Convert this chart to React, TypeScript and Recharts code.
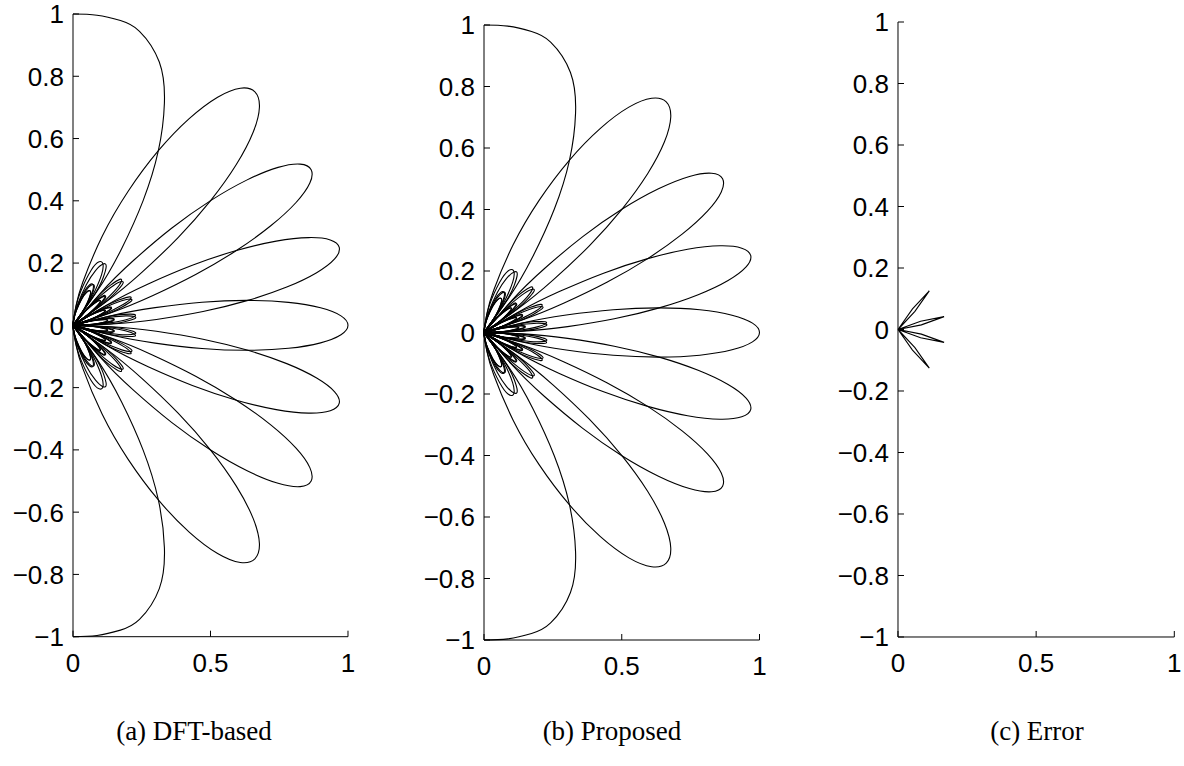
import React from 'react'
import { LineChart, Line, XAxis, YAxis } from 'recharts'

// sampling angles of the beam patterns, degrees from broadside
const THETA = [
  -90, -85, -80, -75.64, -69.64, -65.02, -61.04, -57.53, -54.34, -51.38, -48.59, -45.95, -43.43,
  -41.01, -38.68, -36.42, -34.23, -32.09, -30, -27.95, -25.94, -23.97, -22.02, -20.11, -18.21,
  -16.34, -14.48, -12.64, -10.81, -8.99, -7.18, -5.38, -3.58, -1.79, 0, 1.79, 3.58, 5.38, 7.18,
  8.99, 10.81, 12.64, 14.48, 16.34, 18.21, 20.11, 22.02, 23.97, 25.94, 27.95, 30, 32.09, 34.23,
  36.42, 38.68, 41.01, 43.43, 45.95, 48.59, 51.38, 54.34, 57.53, 61.04, 65.02, 69.64, 75.64, 80,
  85, 90,
]

// beam magnitudes (one list per beam), same order as THETA
const BEAM_M3 = [
  0, 0.016, 0.066,
  0.142, 0.304, 0.475, 0.641, 0.787, 0.902, 0.975, 1, 0.975, 0.902, 0.787, 0.641, 0.475, 0.304, 0.142, 0, 0.112, 0.188, 0.225, 0.225, 0.194, 0.139, 0.071, 0, 0.065, 0.114, 0.144, 0.150, 0.135, 0.100, 0.053,
  0,
  0.051, 0.092, 0.119, 0.127, 0.117, 0.089, 0.048, 0, 0.048, 0.089, 0.117, 0.127, 0.119, 0.092, 0.051, 0, 0.053, 0.100, 0.135, 0.150, 0.144, 0.114, 0.065, 0, 0.071, 0.139, 0.194, 0.225, 0.225, 0.188, 0.112,
  0.059, 0.015, 0,
]
const BEAM_M2 = [
  0, 0.009, 0.034,
  0.071, 0.139, 0.194, 0.225, 0.225, 0.188, 0.112, 0, 0.142, 0.304, 0.475, 0.641, 0.787, 0.902, 0.975, 1, 0.975, 0.902, 0.787, 0.641, 0.475, 0.304, 0.142, 0, 0.112, 0.188, 0.225, 0.225, 0.194, 0.139, 0.071,
  0,
  0.065, 0.114, 0.144, 0.150, 0.135, 0.100, 0.053, 0, 0.051, 0.092, 0.119, 0.127, 0.117, 0.089, 0.048, 0, 0.048, 0.089, 0.117, 0.127, 0.119, 0.092, 0.051, 0, 0.053, 0.100, 0.135, 0.150, 0.144, 0.114, 0.065,
  0.033, 0.008, 0,
]
const BEAM_M1 = [
  0, 0.006, 0.026,
  0.053, 0.100, 0.135, 0.150, 0.144, 0.114, 0.065, 0, 0.071, 0.139, 0.194, 0.225, 0.225, 0.188, 0.112, 0, 0.142, 0.304, 0.475, 0.641, 0.787, 0.902, 0.975, 1, 0.975, 0.902, 0.787, 0.641, 0.475, 0.304, 0.142,
  0,
  0.112, 0.188, 0.225, 0.225, 0.194, 0.139, 0.071, 0, 0.065, 0.114, 0.144, 0.150, 0.135, 0.100, 0.053, 0, 0.051, 0.092, 0.119, 0.127, 0.117, 0.089, 0.048, 0, 0.048, 0.089, 0.117, 0.127, 0.119, 0.092, 0.051,
  0.025, 0.006, 0,
]
const BEAM_0 = [
  0, 0.006, 0.024,
  0.048, 0.089, 0.117, 0.127, 0.119, 0.092, 0.051, 0, 0.053, 0.100, 0.135, 0.150, 0.144, 0.114, 0.065, 0, 0.071, 0.139, 0.194, 0.225, 0.225, 0.188, 0.112, 0, 0.142, 0.304, 0.475, 0.641, 0.787, 0.902, 0.975,
  1,
  0.975, 0.902, 0.787, 0.641, 0.475, 0.304, 0.142, 0, 0.112, 0.188, 0.225, 0.225, 0.194, 0.139, 0.071, 0, 0.065, 0.114, 0.144, 0.150, 0.135, 0.100, 0.053, 0, 0.051, 0.092, 0.119, 0.127, 0.117, 0.089, 0.048,
  0.024, 0.006, 0,
]
const BEAM_P1 = [
  0, 0.006, 0.025,
  0.051, 0.092, 0.119, 0.127, 0.117, 0.089, 0.048, 0, 0.048, 0.089, 0.117, 0.127, 0.119, 0.092, 0.051, 0, 0.053, 0.100, 0.135, 0.150, 0.144, 0.114, 0.065, 0, 0.071, 0.139, 0.194, 0.225, 0.225, 0.188, 0.112,
  0,
  0.142, 0.304, 0.475, 0.641, 0.787, 0.902, 0.975, 1, 0.975, 0.902, 0.787, 0.641, 0.475, 0.304, 0.142, 0, 0.112, 0.188, 0.225, 0.225, 0.194, 0.139, 0.071, 0, 0.065, 0.114, 0.144, 0.150, 0.135, 0.100, 0.053,
  0.026, 0.006, 0,
]
const BEAM_P2 = [
  0, 0.008, 0.033,
  0.065, 0.114, 0.144, 0.150, 0.135, 0.100, 0.053, 0, 0.051, 0.092, 0.119, 0.127, 0.117, 0.089, 0.048, 0, 0.048, 0.089, 0.117, 0.127, 0.119, 0.092, 0.051, 0, 0.053, 0.100, 0.135, 0.150, 0.144, 0.114, 0.065,
  0,
  0.071, 0.139, 0.194, 0.225, 0.225, 0.188, 0.112, 0, 0.142, 0.304, 0.475, 0.641, 0.787, 0.902, 0.975, 1, 0.975, 0.902, 0.787, 0.641, 0.475, 0.304, 0.142, 0, 0.112, 0.188, 0.225, 0.225, 0.194, 0.139, 0.071,
  0.034, 0.009, 0,
]
const BEAM_P3 = [
  0, 0.015, 0.059,
  0.112, 0.188, 0.225, 0.225, 0.194, 0.139, 0.071, 0, 0.065, 0.114, 0.144, 0.150, 0.135, 0.100, 0.053, 0, 0.051, 0.092, 0.119, 0.127, 0.117, 0.089, 0.048, 0, 0.048, 0.089, 0.117, 0.127, 0.119, 0.092, 0.051,
  0,
  0.053, 0.100, 0.135, 0.150, 0.144, 0.114, 0.065, 0, 0.071, 0.139, 0.194, 0.225, 0.225, 0.188, 0.112, 0, 0.142, 0.304, 0.475, 0.641, 0.787, 0.902, 0.975, 1, 0.975, 0.902, 0.787, 0.641, 0.475, 0.304, 0.142,
  0.066, 0.016, 0,
]
// endfire beam: half lobes at +90 and -90
const BEAM_END = [
  1, 1, 0.994,
  0.975, 0.902, 0.787, 0.641, 0.475, 0.304, 0.142, 0, 0.112, 0.188, 0.225, 0.225, 0.194, 0.139, 0.071, 0, 0.065, 0.114, 0.144, 0.150, 0.135, 0.100, 0.053, 0, 0.051, 0.092, 0.119, 0.127, 0.117, 0.089, 0.048,
  0,
  0.048, 0.089, 0.117, 0.127, 0.119, 0.092, 0.051, 0, 0.053, 0.100, 0.135, 0.150, 0.144, 0.114, 0.065, 0, 0.071, 0.139, 0.194, 0.225, 0.225, 0.188, 0.112, 0, 0.142, 0.304, 0.475, 0.641, 0.787, 0.902, 0.975,
  0.994, 1, 1,
]

// error pattern (c): four thin spikes
const ERR_THETA = [
  -90, -55.9, -51.9, -47.9, -43.9, -39.9, -22.1, -18.1, -14.1, -10.1, -6.1,
  6.1, 10.1, 14.1, 18.1, 22.1, 39.9, 43.9, 47.9, 51.9, 55.9, 90,
]
const ERR_R = [
  0, 0, 0.085, 0.169, 0.085, 0, 0, 0.086, 0.172, 0.086, 0,
  0, 0.086, 0.172, 0.086, 0, 0, 0.085, 0.169, 0.085, 0, 0,
]

const Y_TICKS = [-1, -0.8, -0.6, -0.4, -0.2, 0, 0.2, 0.4, 0.6, 0.8, 1]
const X_TICKS = [0, 0.5, 1]
const CAPTIONS = ['(a) DFT-based', '(b) Proposed', '(c) Error']

const BEAMS = [BEAM_M3, BEAM_M2, BEAM_M1, BEAM_0, BEAM_P1, BEAM_P2, BEAM_P3, BEAM_END]

const FONT = '"Liberation Sans", Arial, Helvetica, sans-serif'
const SERIF = '"Liberation Serif", "Times New Roman", serif'

// polar (deg, r) -> cartesian points for the line series
const toXY = (theta: number[], r: number[]) =>
  theta.map((t, i) => {
    const a = (t * Math.PI) / 180
    return { x: r[i] * Math.cos(a), y: r[i] * Math.sin(a) }
  })

const fmt = (v: number) => (v < 0 ? '\u2212' + String(-v) : String(v))

function YTick(props: any) {
  const { x, y, payload } = props
  return (
    <g>
      <line x1={x} x2={x + 6} y1={y} y2={y} stroke="#000" strokeWidth={1} />
      <text x={x - 9} y={y} dy="0.36em" textAnchor="end" fontSize={26} fontFamily={FONT} fill="#000">
        {fmt(payload.value)}
      </text>
    </g>
  )
}

function XTick(props: any) {
  const { x, y, payload } = props
  return (
    <g>
      <line x1={x} x2={x} y1={y} y2={y - 6} stroke="#000" strokeWidth={1} />
      <text x={x} y={y + 35} textAnchor="middle" fontSize={26} fontFamily={FONT} fill="#000">
        {fmt(payload.value)}
      </text>
    </g>
  )
}

interface PanelProps {
  left: number
  top: number
  w: number
  h: number
  series: { x: number; y: number }[][]
  curve: 'natural' | 'linear'
}

const AXIS_W = 80
const PAD_TOP = 22

function Panel({ left, top, w, h, series, curve }: PanelProps) {
  return (
    <div style={{ position: 'absolute', left: left - AXIS_W, top: top - PAD_TOP }}>
      <LineChart
        width={AXIS_W + w + 20}
        height={PAD_TOP + h + 60}
        margin={{ top: PAD_TOP, right: 20, bottom: 0, left: 0 }}
      >
        <XAxis
          type="number"
          dataKey="x"
          domain={[0, 1]}
          ticks={X_TICKS}
          height={60}
          tickSize={0}
          tickMargin={0}
          tickLine={false}
          axisLine={{ stroke: '#000', strokeWidth: 1 }}
          tick={(p: any) => <XTick {...p} />}
          interval={0}
        />
        <YAxis
          type="number"
          dataKey="y"
          domain={[-1, 1]}
          ticks={Y_TICKS}
          width={AXIS_W}
          tickSize={0}
          tickMargin={0}
          tickLine={false}
          axisLine={{ stroke: '#000', strokeWidth: 1 }}
          tick={(p: any) => <YTick {...p} />}
          interval={0}
        />
        {series.map((d, i) => (
          <Line
            key={i}
            data={d}
            dataKey="y"
            type={curve}
            stroke="#000"
            strokeWidth={1.1}
            dot={false}
            activeDot={false}
            isAnimationActive={false}
          />
        ))}
      </LineChart>
    </div>
  )
}

export default function App() {
  const beams = BEAMS.map((r) => toXY(THETA, r))
  const err = [toXY(ERR_THETA, ERR_R)]
  const captionX = [194, 612, 1037]
  return (
    <div style={{ position: 'absolute', left: 0, top: 0, width: 1184, height: 766, background: '#fff' }}>
      <Panel left={72.7} top={14} w={275} h={622.7} series={beams} curve="natural" />
      <Panel left={484.3} top={25} w={275.5} h={615} series={beams} curve="natural" />
      <Panel left={897.7} top={22.3} w={276.3} h={615} series={err} curve="linear" />
      {CAPTIONS.map((c, i) => (
        <div
          key={c}
          style={{
            position: 'absolute',
            left: captionX[i] - 150,
            width: 300,
            top: 716,
            textAlign: 'center',
            fontFamily: SERIF,
            fontSize: 27,
            color: '#000',
            whiteSpace: 'nowrap',
          }}
        >
          {c}
        </div>
      ))}
    </div>
  )
}
